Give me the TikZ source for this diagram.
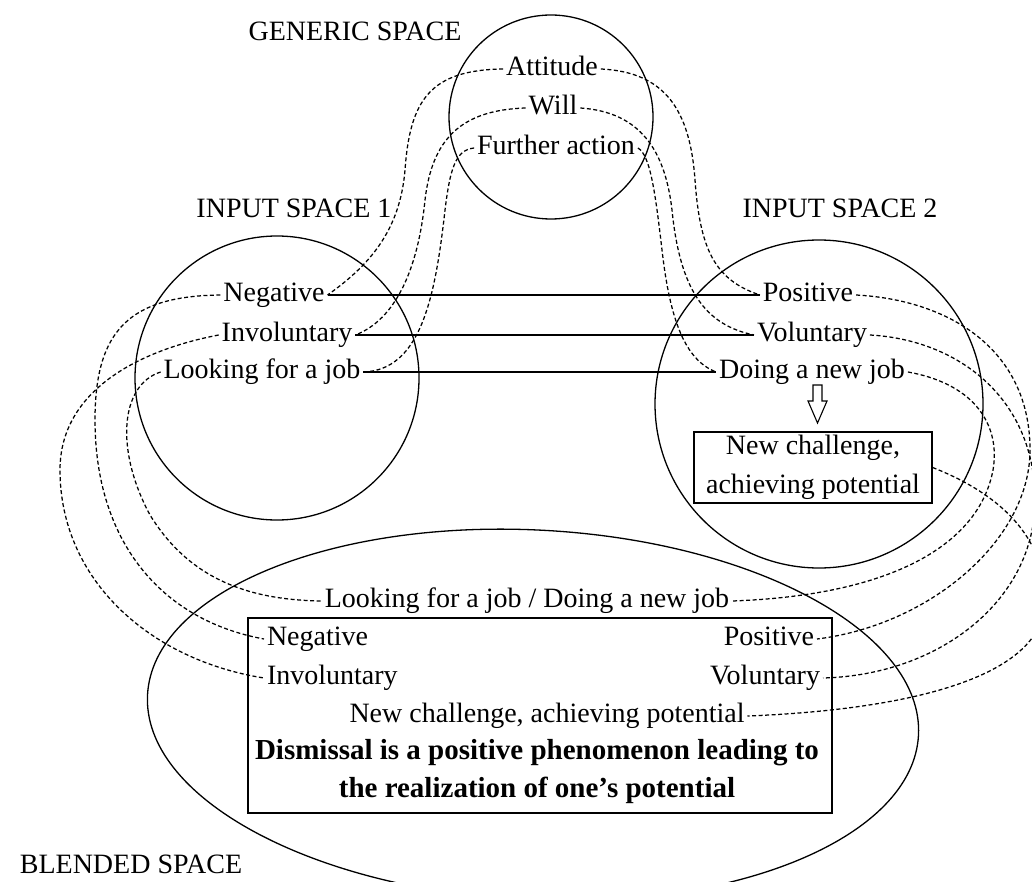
\documentclass[tikz,border=0pt]{standalone}
\usepackage{fontspec}
\setmainfont{Liberation Serif}
\begin{document}
\begin{tikzpicture}[x=1pt,y=-1pt,
  lbl/.style={inner sep=0pt, outer sep=3pt, text height=19.6pt, text depth=7pt, font=\fontsize{28}{39}\selectfont},
  boldlbl/.style={lbl, font=\bfseries\fontsize{29}{38}\selectfont},
  shp/.style={line width=1.3pt},
  ln/.style={line width=1.3pt},
  dsh/.style={line width=1.25pt, dash pattern=on 4pt off 2.5pt}]
\useasboundingbox (0,0) rectangle (1032,882);
% spaces
\draw[shp] (551,117) circle[radius=102];
\draw[shp] (277,378) circle[radius=142];
\draw[shp] (819,404) circle[radius=164];
\draw[shp, rotate around={-3:(533,715)}] (533,715) ellipse[x radius=386, y radius=185];
% labels
\node[lbl] (gen) at (355,34) {GENERIC SPACE};
\node[lbl] (att) at (552,69) {Attitude};
\node[lbl] (will) at (553,108) {Will};
\node[lbl] (fur) at (556,148) {Further action};
\node[lbl] (in1) at (294,211) {INPUT SPACE 1};
\node[lbl] (in2) at (840,211) {INPUT SPACE 2};
\node[lbl] (neg1) at (274,295) {Negative};
\node[lbl] (inv1) at (287,335) {Involuntary};
\node[lbl] (look1) at (262,372) {Looking for a job};
\node[lbl] (pos2) at (808,295) {Positive};
\node[lbl] (vol2) at (812,335) {Voluntary};
\node[lbl] (do2) at (812,372) {Doing a new job};
\node[draw, line width=1.3pt, minimum width=238pt, minimum height=71pt, inner sep=0pt, align=center,
      font=\fontsize{28}{39}\selectfont] (nc2) at (813,467.5) {New challenge,\\achieving potential};
\draw[line width=1.1pt] (813,385) -- (822,385) -- (822,401) -- (827,401) -- (817.5,423) -- (808,401) -- (813,401) -- cycle;
% blended space
\node[draw, line width=1.3pt, minimum width=584pt, minimum height=195pt, inner sep=0pt] (bbox) at (540,715.5) {};
\node[lbl] (lookB) at (527,601) {Looking for a job / Doing a new job};
\node[lbl, anchor=west] (negB) at (264,639) {Negative};
\node[lbl, anchor=east] (posB) at (817,639) {Positive};
\node[lbl, anchor=west] (invB) at (264,678) {Involuntary};
\node[lbl, anchor=east] (volB) at (823,678) {Voluntary};
\node[lbl] (ncB) at (547,716) {New challenge, achieving potential};
\node[boldlbl] (dis1) at (537,753) {Dismissal is a positive phenomenon leading to};
\node[boldlbl] (dis2) at (537,791) {the realization of one’s potential};
\node[lbl] (blend) at (131,867) {BLENDED SPACE};
% solid mappings
\draw[ln] (neg1.east) -- (pos2.west);
\draw[ln] (inv1.east) -- (vol2.west);
\draw[ln] (look1.east) -- (do2.west);
% generic to inputs
\draw[dsh] (att.west) .. controls (430,70) and (410,100) .. (405,170) .. controls (400,230) and (370,265) .. (neg1.east);
\draw[dsh] (will.west) .. controls (460,110) and (432,140) .. (425,200) .. controls (418,270) and (395,320) .. (inv1.east);
\draw[dsh] (fur.west) .. controls (455,150) and (450,170) .. (445,210) .. controls (435,300) and (420,370) .. (look1.east);
\draw[dsh] (att.east) .. controls (665,72) and (690,110) .. (695,180) .. controls (700,250) and (715,280) .. (pos2.west);
\draw[dsh] (will.east) .. controls (640,112) and (665,150) .. (672,210) .. controls (680,290) and (705,325) .. (vol2.west);
\draw[dsh] (fur.east) .. controls (650,155) and (655,190) .. (662,250) .. controls (670,320) and (685,360) .. (do2.west);
% input 1 to blend
\draw[dsh] (neg1.west) .. controls (130,296) and (95,330) .. (95,420) .. controls (95,540) and (160,620) .. (negB.west);
\draw[dsh] (inv1.west) .. controls (140,350) and (60,390) .. (60,470) .. controls (60,580) and (150,660) .. (invB.west);
\draw[dsh] (look1.west) .. controls (120,385) and (115,450) .. (150,515) .. controls (190,580) and (250,600) .. (lookB.west);
% input 2 to blend
\draw[dsh] (pos2.east) .. controls (950,300) and (1030,350) .. (1030,450) .. controls (1030,540) and (930,625) .. (posB.east);
\draw[dsh] (vol2.east) .. controls (960,340) and (1035,400) .. (1035,500) .. controls (1035,600) and (940,675) .. (volB.east);
\draw[dsh] (do2.east) .. controls (980,385) and (1000,430) .. (993,470) .. controls (980,540) and (900,595) .. (lookB.east);
\draw[dsh] (nc2.east) .. controls (990,490) and (1045,530) .. (1045,600) .. controls (1045,680) and (900,710) .. (ncB.east);
\end{tikzpicture}
\end{document}
